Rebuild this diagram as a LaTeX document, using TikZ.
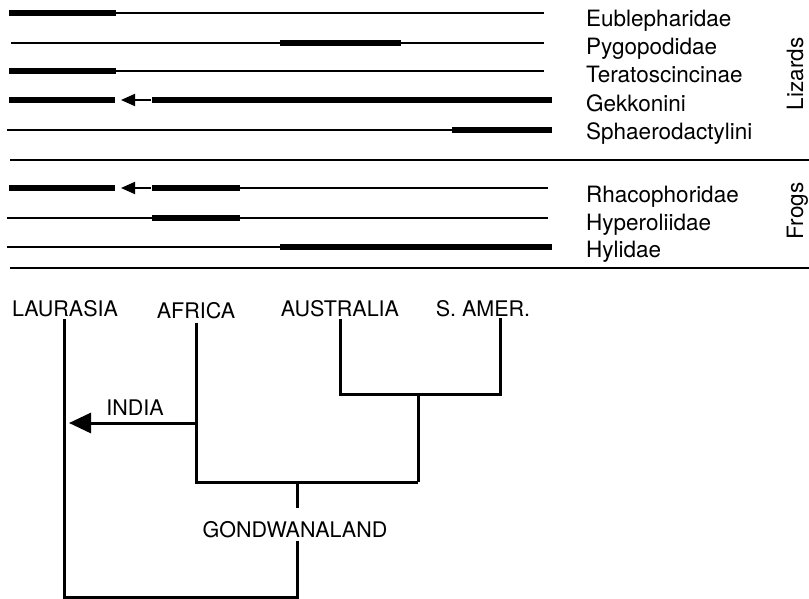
\documentclass[tikz,border=0pt]{standalone}
\usepackage{fontspec}
\setmainfont{TeX Gyre Heros}
\usepackage{tikz}
\usetikzlibrary{positioning, arrows.meta, calc}

\tikzset{
    thinline/.style={line width=1.8pt},
    thickbar/.style={line width=6pt},
    tree/.style={line width=3pt},
    taxon/.style={anchor=base west, inner sep=0pt, font=\fontsize{22.5}{27}\selectfont},
    group/.style={rotate=90, anchor=base, inner sep=0pt, font=\fontsize{22.5}{27}\selectfont},
    place/.style={anchor=base, inner sep=0pt, font=\fontsize{21.5}{25}\selectfont},
}

\begin{document}
\begin{tikzpicture}[x=1pt, y=-1pt]
    \useasboundingbox (0,0) rectangle (809,599);

    % Lizards
    \draw[thickbar] (9,13) -- (116,13);
    \draw[thinline] (116,13) -- (544,13);
    \draw[thinline] (11,43) -- (280,43);
    \draw[thickbar] (280,43) -- (401,43);
    \draw[thinline] (401,43) -- (544,43);
    \draw[thickbar] (9,71) -- (116,71);
    \draw[thinline] (116,71) -- (544,71);
    \draw[thickbar] (9,100) -- (115,100);
    \draw[thinline, -{Triangle[length=14pt, width=12pt]}] (151,100) -- (121,100);
    \draw[thickbar] (152,100) -- (552,100);
    \draw[thinline] (7,130) -- (452,130);
    \draw[thickbar] (452,130) -- (552,130);

    % separator
    \draw[thinline] (10,160) -- (809,160);

    % Frogs
    \draw[thickbar] (9,188) -- (115,188);
    \draw[thinline, -{Triangle[length=14pt, width=12pt]}] (151,188) -- (121,188);
    \draw[thickbar] (152,188) -- (240,188);
    \draw[thinline] (240,188) -- (548,188);
    \draw[thinline] (7,218) -- (152,218);
    \draw[thickbar] (152,218) -- (240,218);
    \draw[thinline] (240,218) -- (548,218);
    \draw[thinline] (7,247) -- (280,247);
    \draw[thickbar] (280,247) -- (552,247);

    \draw[thinline] (10,268) -- (809,268);

    % taxa
    \node[taxon] (eub) at (586,27) {Eublepharidae};
    \node[taxon] (pyg) at (586,55) {Pygopodidae};
    \node[taxon] (ter) at (586,83) {Teratoscincinae};
    \node[taxon] (gek) at (586,112) {Gekkonini};
    \node[taxon] (sph) at (586,140) {Sphaerodactylini};
    \node[taxon] (rha) at (586,202) {Rhacophoridae};
    \node[taxon] (hyp) at (586,230) {Hyperoliidae};
    \node[taxon] (hyl) at (586,257) {Hylidae};
    \node[group] (lizards) at (803,74) {Lizards};
    \node[group] (frogs) at (803,211) {Frogs};

    % Areas
    \node[place] (laurasia) at (65,316) {LAURASIA};
    \node[place] (africa) at (196,318) {AFRICA};
    \node[place] (australia) at (340,316) {AUSTRALIA};
    \node[place] (samer) at (483,316) {S.\ AMER.};
    \node[place] (gondwana) at (295,537) {GONDWANALAND};
    \node[place] (india) at (135,415) {INDIA};

    \coordinate (sleg) at (500,318);
    \coordinate (asj) at (418,394);
    \coordinate (gj) at (297,482);
    \coordinate (root) at (64,597);

    % Tree
    \draw[tree] ($(australia.south)+(0,2)$) |- (sleg |- asj) -- (sleg);
    \draw[tree] (asj) -- (asj |- gj);
    \draw[tree] ($(africa.south)+(0,4)$) |- (asj |- gj);
    \draw[tree] (gj) -- ++(0,26);
    \draw[tree] ($(gondwana.south -| gj)+(0,3)$) -- (gj |- root) -| ($(laurasia.south -| root)+(0,2)$);
    \draw[tree, -{Triangle[length=22pt, width=20pt]}, shorten >=5pt]
        (africa.south |- 0,423) -- (root |- 0,423);
\end{tikzpicture}
\end{document}
